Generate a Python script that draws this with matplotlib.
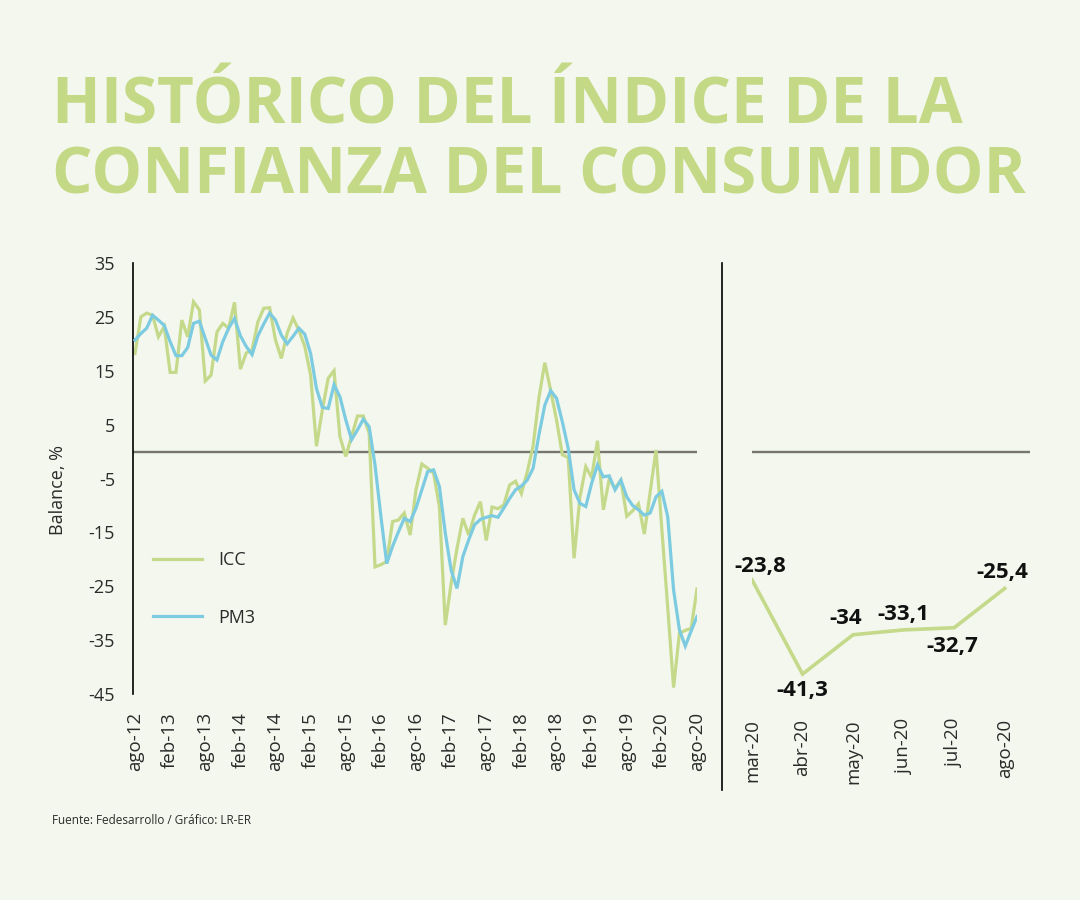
import matplotlib
matplotlib.use("Agg")
import matplotlib.pyplot as plt
from matplotlib.lines import Line2D

# ---------------- data ----------------
icc = [18.2, 25.0, 25.7, 25.3, 21.3, 23.2, 14.7, 14.7, 24.4, 21.3,
       27.8, 26.3, 13.1, 14.2, 22.2, 23.8, 22.9, 27.7, 15.3, 18.3,
       18.9, 24.1, 26.6, 26.7, 20.7, 17.3, 22.0, 24.8, 22.5, 19.5,
       14.2, 1.0, 7.7, 13.6, 15.0, 2.8, -0.9, 2.8, 6.6, 6.6,
       3.4, -21.4, -21.0, -20.4, -13.0, -12.7, -11.4, -15.5, -7.1, -2.3,
       -3.1, -4.0, -10.2, -32.2, -24.5, -18.0, -12.4, -15.5, -11.8, -9.3,
       -16.5, -10.3, -10.6, -9.9, -6.2, -5.5, -7.8, -3.8, 1.0, 10.0,
       16.5, 11.4, 5.9, -0.6, -1.1, -19.8, -8.5, -2.8, -4.8, 2.0,
       -10.8, -5.2, -6.8, -5.3, -12.0, -11.0, -9.7, -15.3, -7.5, 0.3,
       -14.5, -29.0, -43.8, -33.7, -33.2, -32.8, -25.5]

pm3 = [20.7, 21.9, 22.9, 25.3, 24.4, 23.4, 20.4, 17.8, 17.8, 19.3,
       23.8, 24.2, 21.0, 17.9, 17.0, 20.4, 22.9, 24.7, 21.5, 19.5,
       18.0, 21.5, 23.7, 25.7, 24.4, 21.6, 20.0, 21.4, 22.9, 21.8,
       18.2, 11.7, 8.2, 8.0, 12.4, 10.2, 5.9, 2.2, 4.0, 6.0,
       4.6, -2.5, -12.0, -20.8, -17.6, -14.9, -12.4, -13.0, -10.5, -7.1,
       -3.7, -3.4, -6.5, -15.1, -22.0, -25.4, -19.5, -16.4, -13.6, -12.6,
       -12.2, -11.9, -12.2, -10.5, -8.7, -7.1, -6.4, -5.3, -3.1, 3.1,
       8.6, 11.3, 9.9, 5.5, 0.6, -7.1, -9.6, -10.2, -5.9, -2.5,
       -4.7, -4.5, -7.1, -5.3, -8.4, -10.0, -10.8, -11.8, -11.4, -8.4,
       -7.4, -12.1, -25.7, -33.1, -36.1, -33.3, -30.6]

x_tick_labels = ["ago-12", "feb-13", "ago-13", "feb-14", "ago-14", "feb-15",
                 "ago-15", "feb-16", "ago-16", "feb-17", "ago-17", "feb-18",
                 "ago-18", "feb-19", "ago-19", "feb-20", "ago-20"]
y_ticks = [35, 25, 15, 5, -5, -15, -25, -35, -45]

recent_months = ["mar-20", "abr-20", "may-20", "jun-20", "jul-20", "ago-20"]
recent_icc = [-23.8, -41.3, -34.0, -33.1, -32.7, -25.4]
recent_labels = ["-23,8", "-41,3", "-34", "-33,1", "-32,7", "-25,4"]

# ---------------- style ----------------
BG = "#f3f7ed"
GREEN = "#c5d98b"
TITLE_GREEN = "#c4d985"
BLUE = "#7ccbe1"
ZERO = "#76766e"
TXT = "#2b2b2b"
FONT = ["Open Sans", "DejaVu Sans"]
plt.rcParams["font.family"] = FONT

W, H = 1080, 900
fig = plt.figure(figsize=(W / 100, H / 100), dpi=100, facecolor=BG)


def fx(px):
    return px / W


def fy(py):
    return 1 - py / H


# ---------------- title ----------------
t1 = fig.text(fx(52), fy(124), "HISTÓRICO DEL ÍNDICE DE LA", fontsize=50,
              fontweight="bold", color=TITLE_GREEN, ha="left", va="baseline")
t2 = fig.text(fx(52), fy(193), "CONFIANZA DEL CONSUMIDOR", fontsize=50,
              fontweight="bold", color=TITLE_GREEN, ha="left", va="baseline")
fig.canvas.draw()
w2 = t2.get_window_extent().width
fs = 50 * 973 / w2
t1.set_fontsize(fs)
t2.set_fontsize(fs)

# ---------------- main panel ----------------
ax = fig.add_axes([fx(133), fy(694), fx(697) - fx(133), fy(263) - fy(694)])
ax.set_facecolor("none")
months = list(range(len(icc)))
ax.axhline(0, color=ZERO, lw=1.7, zorder=1)
ax.plot(months, icc, color=GREEN, lw=2.3, label="ICC",
        solid_joinstyle="miter", zorder=2)
ax.plot(months, pm3, color=BLUE, lw=2.3, label="PM3",
        solid_joinstyle="miter", zorder=3)
ax.set_xlim(-0.34, len(icc) - 1)
ax.set_ylim(-45, 35)
ax.set_yticks(y_ticks)
ax.set_yticklabels([str(v) for v in y_ticks])
ax.set_xticks(months[::6])
ax.set_xticklabels(x_tick_labels, rotation=90, va="top", ha="center")
ax.tick_params(axis="y", length=0, pad=13, labelsize=13, labelcolor=TXT)
ax.tick_params(axis="x", length=0, pad=13, labelsize=13.5, labelcolor=TXT)
for s in ["top", "right", "bottom"]:
    ax.spines[s].set_visible(False)
ax.spines["left"].set_color("black")
ax.spines["left"].set_linewidth(1.2)
ax.set_ylabel("Balance, %", fontsize=13, color=TXT)
ax.yaxis.set_label_coords(-0.117, 0.473)

leg = ax.legend(loc="upper left", bbox_to_anchor=(fx(153), fy(551)),
                bbox_transform=fig.transFigure, frameon=False,
                fontsize=13, handlelength=2.7, handletextpad=0.9,
                labelspacing=2.2, borderpad=0, borderaxespad=0)
for t in leg.get_texts():
    t.set_color(TXT)

# separator
fig.add_artist(Line2D([fx(722), fx(722)], [fy(263), fy(790)],
                      color="black", lw=1.2))

# ---------------- recent panel ----------------
ax2 = fig.add_axes([fx(752), fy(694), fx(1030) - fx(752), fy(263) - fy(694)])
ax2.set_facecolor("none")
pos = list(range(len(recent_icc)))
ax2.axhline(0, color=ZERO, lw=1.7, zorder=1)
ax2.plot(pos, recent_icc, color=GREEN, lw=2.6, solid_joinstyle="miter",
         zorder=2)
ax2.set_xlim(0, 5.5)
ax2.set_ylim(-45, 35)
ax2.set_yticks([])
ax2.set_xticks(pos)
ax2.set_xticklabels(recent_months, rotation=90, va="top", ha="center")
ax2.tick_params(axis="x", length=0, pad=18, labelsize=13.5, labelcolor=TXT)
for s in ax2.spines.values():
    s.set_visible(False)

offsets = [(8, 13), (0, -16), (-7, 16), (0, 15), (-2, -19), (-2, 16)]
for p, v, lab, off in zip(pos, recent_icc, recent_labels, offsets):
    ax2.annotate(lab, (p, v), xytext=off, textcoords="offset pixels",
                 ha="center", va="center", fontsize=16, fontweight="bold",
                 color="#111111")

# ---------------- footer ----------------
fig.text(fx(52), fy(820), "Fuente: Fedesarrollo / Gráfico: LR-ER",
         fontsize=8.5, color=TXT, ha="left", va="center")

fig.savefig("out.png", dpi=100, facecolor=BG)
